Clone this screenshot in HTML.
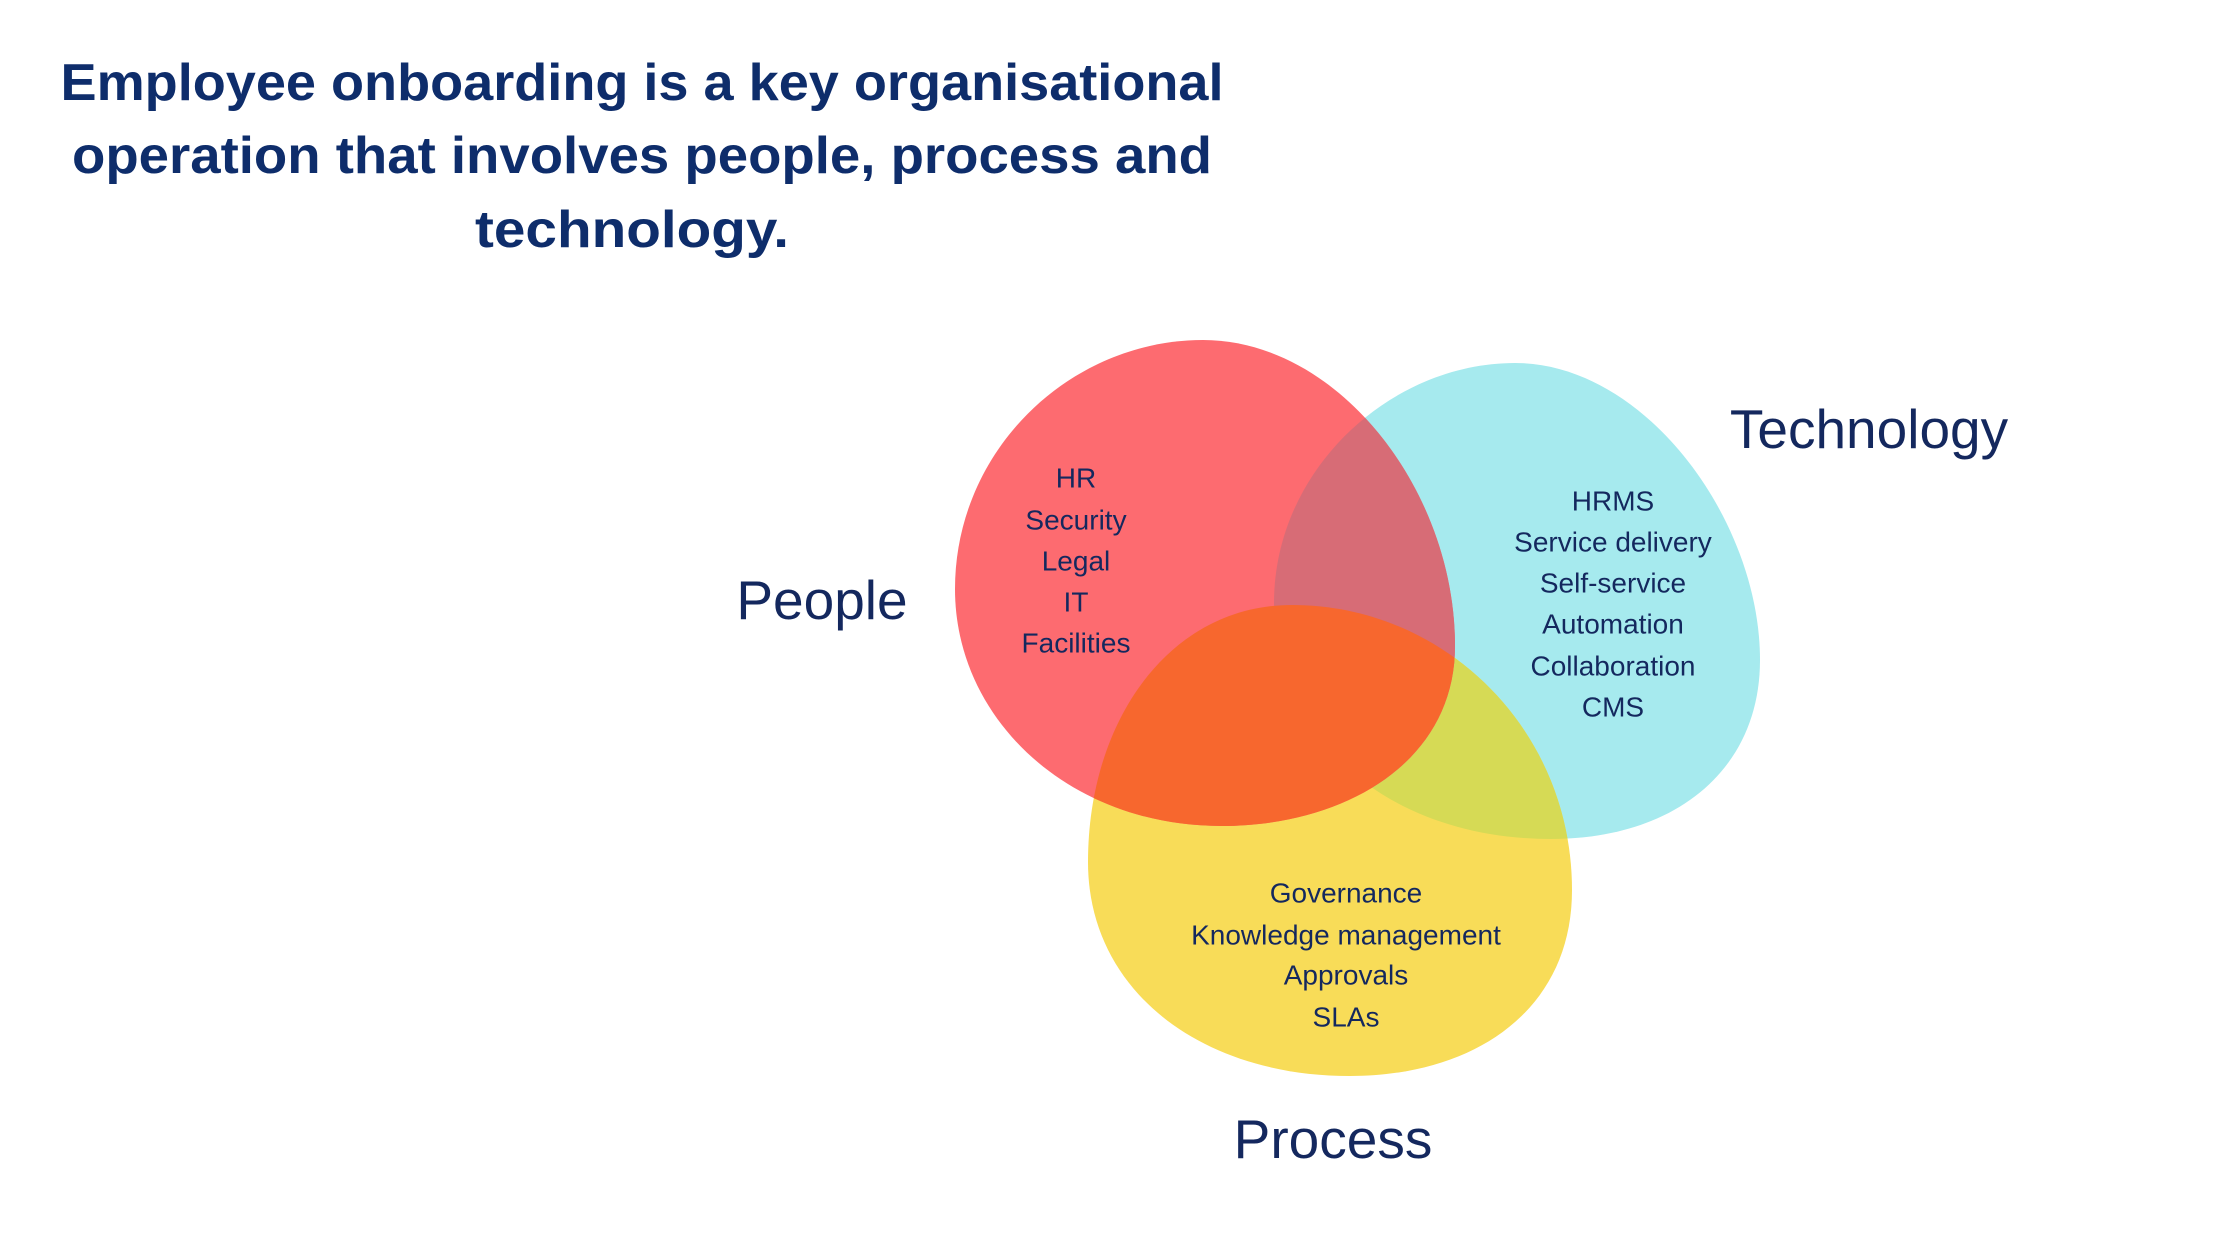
<!DOCTYPE html>
<html><head><meta charset="utf-8"><style>
html,body{margin:0;padding:0;background:#fff;}
svg{display:block;}
text{font-family:"Liberation Sans",sans-serif;fill:#14285e;}
</style></head><body>
<svg width="2240" height="1260" viewBox="0 0 2240 1260" xmlns="http://www.w3.org/2000/svg">
<defs>
<path id="pr" d="M1203 340 C1338 340 1455 490 1455 646 C1455 760 1348 826 1221 826 C1070 826 955 720 955 589 C955 450 1070 340 1203 340 Z"/>
<path id="pc" d="M1515 363 C1645 363 1760 520 1760 660 C1760 770 1675 839 1551 839 C1390 839 1274 740 1274 603 C1274 470 1390 363 1515 363 Z"/>
<path id="py" d="M1292 605 C1445 605 1572 730 1572 890 C1572 1010 1475 1076 1350 1076 C1200 1076 1088 990 1088 862 C1088 720 1170 605 1292 605 Z"/>
<clipPath id="cc"><use href="#pc"/></clipPath>
<clipPath id="cy"><use href="#py"/></clipPath>
</defs>
<g font-weight="bold" font-size="52" text-anchor="middle">
<text x="642" y="83" dominant-baseline="central" textLength="1163" lengthAdjust="spacingAndGlyphs" style="fill:#0e2d6b">Employee onboarding is a key organisational</text>
<text x="642" y="156" dominant-baseline="central" textLength="1140" lengthAdjust="spacingAndGlyphs" style="fill:#0e2d6b">operation that involves people, process and</text>
<text x="632" y="230" dominant-baseline="central" textLength="314" lengthAdjust="spacingAndGlyphs" style="fill:#0e2d6b">technology.</text>
</g>
<use href="#pc" fill="#a6eaee"/>
<use href="#py" fill="#f8dc58"/>
<use href="#py" fill="#d6da55" clip-path="url(#cc)"/>
<use href="#pr" fill="#fd6b70"/>
<use href="#pr" fill="#d76c76" clip-path="url(#cc)"/>
<use href="#pr" fill="#f7672e" clip-path="url(#cy)"/>
<g font-size="55">
<text x="822" y="600" text-anchor="middle" dominant-baseline="central">People</text>
<text x="1869" y="429" text-anchor="middle" dominant-baseline="central">Technology</text>
<text x="1333" y="1139" text-anchor="middle" dominant-baseline="central">Process</text>
</g>
<g font-size="28" text-anchor="middle">
<text x="1076" y="478" dominant-baseline="central">HR</text>
<text x="1076" y="520" dominant-baseline="central">Security</text>
<text x="1076" y="561" dominant-baseline="central">Legal</text>
<text x="1076" y="602" dominant-baseline="central">IT</text>
<text x="1076" y="643" dominant-baseline="central">Facilities</text>
<text x="1613" y="501" dominant-baseline="central">HRMS</text>
<text x="1613" y="542" dominant-baseline="central">Service delivery</text>
<text x="1613" y="583" dominant-baseline="central">Self-service</text>
<text x="1613" y="624" dominant-baseline="central">Automation</text>
<text x="1613" y="666" dominant-baseline="central">Collaboration</text>
<text x="1613" y="707" dominant-baseline="central">CMS</text>
<text x="1346" y="893" dominant-baseline="central">Governance</text>
<text x="1346" y="935" dominant-baseline="central">Knowledge management</text>
<text x="1346" y="975" dominant-baseline="central">Approvals</text>
<text x="1346" y="1017" dominant-baseline="central">SLAs</text>
</g>
</svg>
</body></html>
